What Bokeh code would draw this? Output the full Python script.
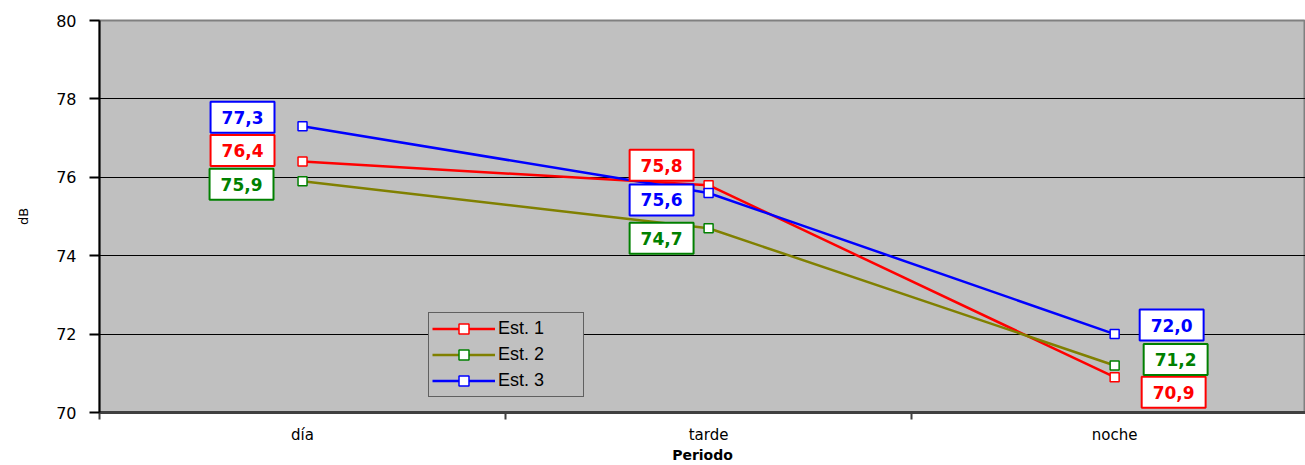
from bokeh.plotting import figure
from bokeh.models import Range1d, FixedTicker, Label, Legend, LegendItem
from bokeh.embed import file_html
from bokeh.resources import INLINE

categories = ["día", "tarde", "noche"]
series_names = ["Est. 1", "Est. 2", "Est. 3"]
est1 = [76.4, 75.8, 70.9]
est2 = [75.9, 74.7, 71.2]
est3 = [77.3, 75.6, 72.0]
y_ticks = [70, 72, 74, 76, 78, 80]
x_title = "Periodo"
y_title = "dB"

series = [est1, est2, est3]
line_colors = ["#FF0000", "#808000", "#0000FF"]
marker_colors = ["#FF0000", "#008000", "#0000FF"]
label_colors = ["#FF0000", "#008000", "#0000FF"]
# label offsets (screen px) per series / category
label_dx = [[-60, -47, 59], [-61, -47, 61], [-60, -47, 57]]
label_dy = [[11, 20, -15], [-3, -10, 6], [9, -7, 9]]

xs = [i + 0.5 for i in range(len(categories))]
x_end = 2.97

p = figure(width=1305, height=465, output_backend="svg", toolbar_location=None,
           x_range=Range1d(0, x_end), y_range=Range1d(70, 80),
           min_border_left=99, min_border_right=0, min_border_top=20, min_border_bottom=52)
p.background_fill_color = "#C0C0C0"
p.border_fill_color = "white"
p.outline_line_color = "#808080"
p.outline_line_width = 2

# axes
p.yaxis.ticker = FixedTicker(ticks=y_ticks)
p.yaxis.major_label_text_font = "DejaVu Sans"
p.yaxis.major_label_text_font_size = "16px"
p.yaxis.major_label_text_color = "#000000"
p.yaxis.major_tick_out = 10
p.yaxis.major_tick_in = 0
p.yaxis.minor_tick_line_color = None
p.yaxis.axis_line_color = "black"
p.yaxis.axis_line_width = 2
p.yaxis.major_tick_line_width = 2
p.yaxis.major_tick_line_color = "black"
p.yaxis.major_label_standoff = 13
p.yaxis.axis_label = y_title
p.yaxis.axis_label_text_font = "DejaVu Sans"
p.yaxis.axis_label_text_font_size = "13px"
p.yaxis.axis_label_text_font_style = "normal"
p.yaxis.axis_label_text_color = "black"
p.yaxis.axis_label_standoff = 22

p.xaxis.ticker = FixedTicker(ticks=xs, minor_ticks=[0, 1, 2, 3])
p.xaxis.major_label_overrides = {x: c for x, c in zip(xs, categories)}
p.xaxis.major_tick_out = 0
p.xaxis.major_tick_in = 0
p.xaxis.minor_tick_out = 7
p.xaxis.minor_tick_in = 0
p.xaxis.minor_tick_line_color = "#404040"
p.xaxis.minor_tick_line_width = 2
p.xaxis.axis_line_color = "#404040"
p.xaxis.axis_line_width = 3
p.xaxis.major_label_text_font = "DejaVu Sans"
p.xaxis.major_label_text_font_size = "15px"
p.xaxis.major_label_text_color = "black"
p.xaxis.major_label_standoff = 6
p.xaxis.axis_label = x_title
p.xaxis.axis_label_text_font = "DejaVu Sans"
p.xaxis.axis_label_text_font_size = "14px"
p.xaxis.axis_label_text_font_style = "bold"
p.xaxis.axis_label_text_color = "black"
p.xaxis.axis_label_standoff = 0

p.xgrid.grid_line_color = None
p.ygrid.ticker = FixedTicker(ticks=[72, 74, 76, 78])
p.ygrid.grid_line_color = "black"
p.ygrid.grid_line_width = 1.2

items = []
for k, vals in enumerate(series):
    ln = p.line(xs, vals, line_color=line_colors[k], line_width=2.5)
    sc = p.scatter(xs, vals, marker="square", size=9, fill_color="white",
                   line_color=marker_colors[k], line_width=1.5)
    items.append(LegendItem(label=series_names[k], renderers=[ln, sc]))

for k, vals in enumerate(series):
    for i, v in enumerate(vals):
        lab = Label(x=xs[i], y=v, x_offset=label_dx[k][i], y_offset=label_dy[k][i],
                    text=f"{v:.1f}".replace(".", ","),
                    text_align="center", text_baseline="middle",
                    text_font="DejaVu Sans", text_font_style="bold",
                    text_font_size="17px", text_color=label_colors[k],
                    background_fill_color="white", border_line_color=label_colors[k],
                    border_line_width=2, padding=(11, 9))
        p.add_layout(lab)

legend = Legend(items=items, location=(329, 15))
legend.background_fill_color = "#C0C0C0"
legend.background_fill_alpha = 1
legend.border_line_color = "black"
legend.border_line_width = 1.5
legend.label_text_font = "Liberation Sans"
legend.label_text_font_size = "18px"
legend.label_text_color = "black"
legend.glyph_width = 63
legend.glyph_height = 25
legend.label_height = 25
legend.label_width = 82
legend.spacing = 1
legend.padding = 3
legend.margin = 0
legend.label_standoff = 3
p.add_layout(legend, "center")

open("out.html", "w").write(file_html(p, INLINE))
